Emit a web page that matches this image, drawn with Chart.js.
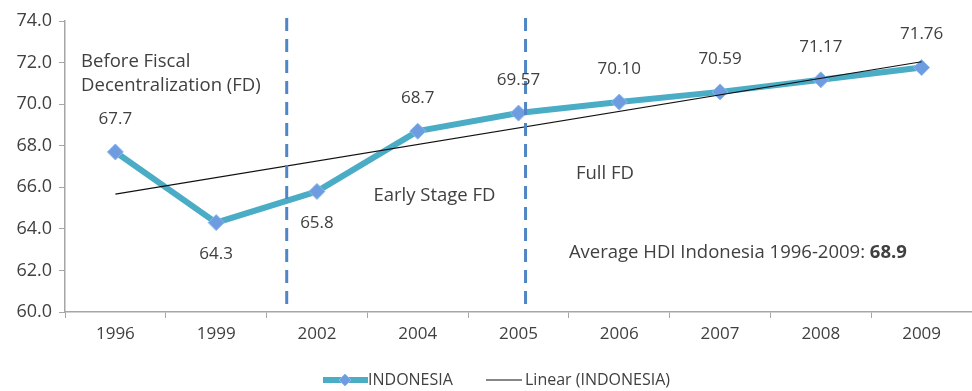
<!DOCTYPE html>
<html>
<head>
<meta charset="utf-8">
<script src="https://cdn.jsdelivr.net/npm/chart.js@4"></script>
<style>
  html, body { margin: 0; padding: 0; background: #fff; }
  #wrap { width: 972px; height: 391px; position: relative; }
</style>
</head>
<body>
<div id="wrap"><canvas id="hdi-chart"></canvas></div>
<script>
const years = ["1996", "1999", "2002", "2004", "2005", "2006", "2007", "2008", "2009"];
const hdiValues = [67.7, 64.3, 65.8, 68.7, 69.57, 70.10, 70.59, 71.17, 71.76];
const hdiLabels = ["67.7", "64.3", "65.8", "68.7", "69.57", "70.10", "70.59", "71.17", "71.76"];
const trendValues = [65.67, null, null, null, null, null, null, null, 72.04];
const yTicks = [60, 62, 64, 66, 68, 70, 72, 74];
const fdBreaks = [1.70, 4.07];
const averageHdi = "68.9";

const FONT = "'Open Sans', Lato, sans-serif";
const TEXT = "#404040";
const labelsBelow = [1, 2];

const notes = [
  { text: "Before Fiscal", x: -0.34, y: 72.02 },
  { text: "Decentralization (FD)", x: -0.34, y: 70.87 },
  { text: "Early Stage FD", x: 2.56, y: 65.58 },
  { text: "Full FD", x: 4.57, y: 66.63 },
];

const overlayPlugin = {
  id: "overlay",
  afterDatasetsDraw(chart) {
    const { ctx, scales: { x, y }, chartArea } = chart;
    ctx.save();

    // fiscal decentralization breaks
    ctx.strokeStyle = "#4f86c6";
    ctx.lineWidth = 3;
    ctx.setLineDash([13, 8]);
    fdBreaks.forEach((b) => {
      const px = x.getPixelForValue(b);
      ctx.beginPath();
      ctx.moveTo(px, chartArea.top - 3);
      ctx.lineTo(px, chartArea.bottom);
      ctx.stroke();
    });
    ctx.setLineDash([]);

    // value labels
    ctx.fillStyle = TEXT;
    ctx.font = `17px ${FONT}`;
    ctx.textAlign = "center";
    ctx.textBaseline = "middle";
    const meta = chart.getDatasetMeta(0);
    meta.data.forEach((pt, i) => {
      const dy = labelsBelow.includes(i) ? 32 : -33;
      ctx.fillText(hdiLabels[i], pt.x, pt.y + dy);
    });

    // annotations
    ctx.font = `18.5px ${FONT}`;
    ctx.textAlign = "left";
    notes.forEach((n) => {
      ctx.fillText(n.text, x.getPixelForValue(n.x), y.getPixelForValue(n.y));
    });
    const ax = x.getPixelForValue(4.50);
    const ay = y.getPixelForValue(62.84);
    const avgText = "Average HDI Indonesia 1996-2009: ";
    ctx.fillText(avgText, ax, ay);
    const w = ctx.measureText(avgText).width;
    ctx.font = `bold 18.5px ${FONT}`;
    ctx.fillText(averageHdi, ax + w, ay);

    // legend
    const ly = 380;
    ctx.strokeStyle = "#4bacc6";
    ctx.lineWidth = 6;
    ctx.beginPath();
    ctx.moveTo(323, ly);
    ctx.lineTo(368, ly);
    ctx.stroke();
    drawDiamond(ctx, 345, ly, 6);
    ctx.font = `16px ${FONT}`;
    ctx.fillStyle = TEXT;
    ctx.fillText("INDONESIA", 368, ly);
    ctx.strokeStyle = "#111";
    ctx.lineWidth = 1.2;
    ctx.beginPath();
    ctx.moveTo(486, ly);
    ctx.lineTo(522, ly);
    ctx.stroke();
    ctx.fillText("Linear (INDONESIA)", 525, ly);

    ctx.restore();
  },
};

function drawDiamond(ctx, cx, cy, r) {
  ctx.beginPath();
  ctx.moveTo(cx, cy - r);
  ctx.lineTo(cx + r, cy);
  ctx.lineTo(cx, cy + r);
  ctx.lineTo(cx - r, cy);
  ctx.closePath();
  ctx.fillStyle = "#6d9de0";
  ctx.fill();
  ctx.strokeStyle = "#8db6ea";
  ctx.lineWidth = 1;
  ctx.stroke();
}

new Chart(document.getElementById("hdi-chart"), {
  type: "line",
  data: {
    labels: years,
    datasets: [
      {
        label: "INDONESIA",
        data: hdiValues,
        borderColor: "#4bacc6",
        borderWidth: 6,
        tension: 0,
        pointStyle: "rectRot",
        pointRadius: 8,
        pointHoverRadius: 8,
        pointBackgroundColor: "#6d9de0",
        pointBorderColor: "#8db6ea",
        pointBorderWidth: 1,
        clip: false,
        order: 2,
      },
      {
        label: "Linear (INDONESIA)",
        data: trendValues,
        borderColor: "#111",
        borderWidth: 1.2,
        pointRadius: 0,
        spanGaps: true,
        clip: false,
        order: 1,
      },
    ],
  },
  options: {
    responsive: true,
    maintainAspectRatio: false,
    animation: false,
    layout: { autoPadding: false, padding: { top: 21, right: -3, bottom: 39, left: 0 } },
    plugins: {
      legend: { display: false },
      tooltip: { enabled: false },
    },
    scales: {
      x: {
        offset: true,
        afterFit: (s) => {
          s.height = 40;
          s.paddingLeft = 0;
          s.paddingRight = 0;
        },
        grid: {
          offset: true,
          drawOnChartArea: false,
          drawTicks: true,
          tickLength: 6,
          color: "#a6a6a6",
        },
        border: { color: "#a6a6a6", width: 1.5 },
        ticks: { color: TEXT, font: { family: FONT, size: 17 }, padding: 6, maxRotation: 0 },
      },
      y: {
        min: 60,
        max: 74,
        afterFit: (s) => { s.width = 65; },
        afterBuildTicks: (s) => { s.ticks = yTicks.map((v) => ({ value: v })); },
        grid: {
          drawOnChartArea: false,
          drawTicks: true,
          tickLength: 6,
          color: "#a6a6a6",
        },
        border: { color: "#a6a6a6", width: 1.5 },
        ticks: {
          color: TEXT,
          font: { family: FONT, size: 18 },
          padding: 7,
          callback: (v) => Number(v).toFixed(1),
        },
      },
    },
  },
  plugins: [overlayPlugin],
});
</script>
</body>
</html>
